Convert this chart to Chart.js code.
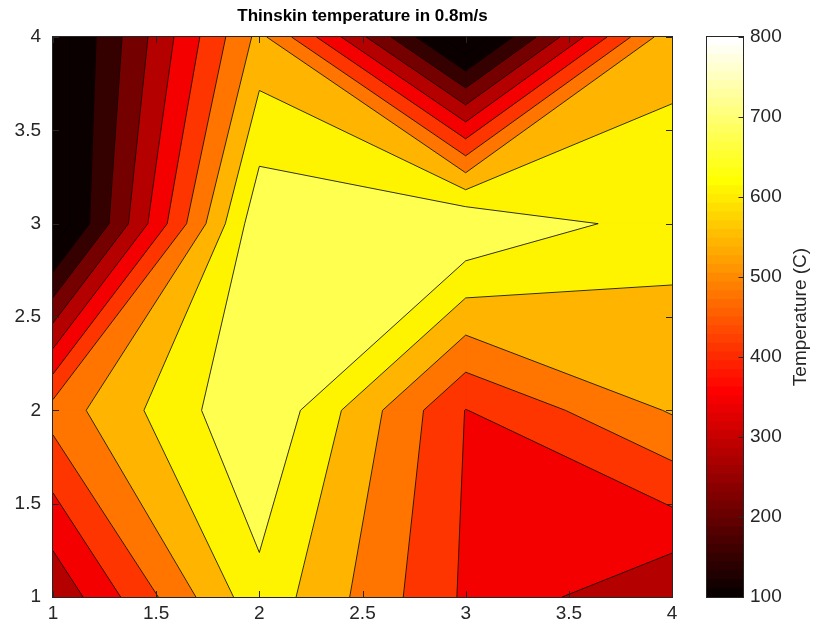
<!DOCTYPE html>
<html>
<head>
<meta charset="utf-8">
<script src="https://cdn.jsdelivr.net/npm/chart.js@4.4.0/dist/chart.umd.min.js"></script>
<style>
  html, body { margin: 0; padding: 0; background: #ffffff; }
  #wrap { position: relative; width: 816px; height: 630px; overflow: hidden; }
  #plot { position: absolute; left: 0; top: 0; }
  #bar { position: absolute; left: 700px; top: 0; }
</style>
</head>
<body>
<div id="wrap">
  <canvas id="plot" width="816" height="630"></canvas>
  <canvas id="bar" width="116" height="630"></canvas>
</div>
<script>
// ---- data -------------------------------------------------------------
const titleText = 'Thinskin temperature in 0.8m/s';
const colorbarLabel = 'Temperature (C)';

// measurement grid
const xGrid = [1, 2, 3, 4];
const yGrid = [1, 2, 3, 4];

// temperature (C) at each grid node, one row per y position, columns follow xGrid
const tempAtY1 = [295, 654, 402, 285];
const tempAtY2 = [506, 740, 411, 550];
const tempAtY3 = [27, 724, 740, 638];
const tempAtY4 = [42, 563, 20, 593];

// filled-contour levels (C)
const contourLevels = [85.5, 150.9, 216.4, 281.8, 347.3, 412.7, 478.2, 543.6, 609.1, 674.5];

// axis ticks
const xTicks = [1, 1.5, 2, 2.5, 3, 3.5, 4];
const yTicks = [1, 1.5, 2, 2.5, 3, 3.5, 4];
const colorTicks = [100, 200, 300, 400, 500, 600, 700, 800];
const colorLimits = [100, 800];

// ---- styling helpers --------------------------------------------------
const FONT = "'Liberation Sans', Arial, Helvetica, sans-serif";
const AXIS_COLOR = '#262626';
const TICK_SIZE = 19;
const MAP_SIZE = 64;

// "hot" colormap entry (1-based index)
function hotEntry(idx) {
  const n = Math.floor(3 / 8 * MAP_SIZE);
  const r = idx <= n ? idx / n : 1;
  const g = idx <= n ? 0 : (idx <= 2 * n ? (idx - n) / n : 1);
  const b = idx <= 2 * n ? 0 : (idx - 2 * n) / (MAP_SIZE - 2 * n);
  return `rgb(${Math.round(r * 255)},${Math.round(g * 255)},${Math.round(b * 255)})`;
}
function colorForValue(v) {
  const [lo, hi] = colorLimits;
  let idx = Math.floor((v - lo) / (hi - lo) * MAP_SIZE) + 1;
  idx = Math.max(1, Math.min(MAP_SIZE, idx));
  return hotEntry(idx);
}

// ---- contour geometry (linear interpolation along cell edges) --------
const temperature = [tempAtY1, tempAtY2, tempAtY3, tempAtY4];

function cellCorners(i, j) {
  return [
    { x: xGrid[i], y: yGrid[j], v: temperature[j][i] },
    { x: xGrid[i + 1], y: yGrid[j], v: temperature[j][i + 1] },
    { x: xGrid[i + 1], y: yGrid[j + 1], v: temperature[j + 1][i + 1] },
    { x: xGrid[i], y: yGrid[j + 1], v: temperature[j + 1][i] }
  ];
}
function crossing(p, q, level) {
  const t = (level - p.v) / (q.v - p.v);
  return { x: p.x + t * (q.x - p.x), y: p.y + t * (q.y - p.y) };
}
// part of a cell at or above a level
function cellRegion(i, j, level) {
  const c = cellCorners(i, j);
  const pts = [];
  for (let k = 0; k < 4; k++) {
    const p = c[k], q = c[(k + 1) % 4];
    const pin = p.v >= level, qin = q.v >= level;
    if (pin) pts.push({ x: p.x, y: p.y });
    if (pin !== qin) pts.push(crossing(p, q, level));
  }
  return pts;
}
// iso-line pieces through a cell
function cellSegments(i, j, level) {
  const c = cellCorners(i, j);
  const hits = [];
  for (let k = 0; k < 4; k++) {
    const p = c[k], q = c[(k + 1) % 4];
    if ((p.v >= level) !== (q.v >= level)) hits.push(crossing(p, q, level));
  }
  const segs = [];
  for (let k = 0; k + 1 < hits.length; k += 2) segs.push([hits[k], hits[k + 1]]);
  return segs;
}

// ---- datasets ---------------------------------------------------------
const datasets = [];
let drawIndex = 0;
function addRegion(pts, color) {
  datasets.push({
    type: 'line',
    data: pts.concat([pts[0]]),
    fill: 'shape',
    backgroundColor: color,
    borderColor: color,
    borderWidth: 0.8,
    pointRadius: 0,
    tension: 0,
    order: -(drawIndex++)
  });
}

const nx = xGrid.length, ny = yGrid.length;
const minTemp = Math.min(...temperature.flat());

// lowest band covers the whole field
addRegion([
  { x: xGrid[0], y: yGrid[0] }, { x: xGrid[nx - 1], y: yGrid[0] },
  { x: xGrid[nx - 1], y: yGrid[ny - 1] }, { x: xGrid[0], y: yGrid[ny - 1] }
], colorForValue(minTemp));

// each higher band painted over the previous one
contourLevels.forEach(level => {
  const color = colorForValue(level);
  for (let j = 0; j < ny - 1; j++) {
    for (let i = 0; i < nx - 1; i++) {
      const pts = cellRegion(i, j, level);
      if (pts.length >= 3) addRegion(pts, color);
    }
  }
});

// contour lines on top
contourLevels.forEach(level => {
  const data = [];
  for (let j = 0; j < ny - 1; j++) {
    for (let i = 0; i < nx - 1; i++) {
      cellSegments(i, j, level).forEach(s => {
        if (data.length) data.push({ x: null, y: null });
        data.push(s[0], s[1]);
      });
    }
  }
  datasets.push({
    type: 'line',
    data,
    fill: false,
    borderColor: 'rgba(0,0,0,0.9)',
    borderWidth: 0.9,
    pointRadius: 0,
    tension: 0,
    spanGaps: false,
    order: -(drawIndex++)
  });
});

// ---- frame and inward tick marks --------------------------------------
const axesFrame = {
  id: 'axesFrame',
  afterDraw(chart) {
    const { ctx, chartArea: a, scales: { x, y } } = chart;
    const tick = 6;
    ctx.save();
    ctx.strokeStyle = AXIS_COLOR;
    ctx.lineWidth = 1;
    ctx.beginPath();
    xTicks.forEach(v => {
      const px = Math.round(x.getPixelForValue(v)) + 0.5;
      ctx.moveTo(px, a.bottom); ctx.lineTo(px, a.bottom - tick);
      ctx.moveTo(px, a.top); ctx.lineTo(px, a.top + tick);
    });
    yTicks.forEach(v => {
      const py = Math.round(y.getPixelForValue(v)) + 0.5;
      ctx.moveTo(a.left, py); ctx.lineTo(a.left + tick, py);
      ctx.moveTo(a.right, py); ctx.lineTo(a.right - tick, py);
    });
    ctx.stroke();
    ctx.strokeRect(a.left - 0.5, a.top - 0.5, a.right - a.left + 1, a.bottom - a.top + 1);
    ctx.restore();
  }
};

Chart.defaults.font.family = FONT;

new Chart(document.getElementById('plot'), {
  type: 'line',
  data: { datasets },
  options: {
    responsive: false,
    animation: false,
    devicePixelRatio: 1,
    layout: { padding: { left: 0, right: 144, top: 0, bottom: 0 } },
    plugins: {
      legend: { display: false },
      tooltip: { enabled: false },
      title: {
        display: true,
        text: titleText,
        fullSize: false,
        color: '#000000',
        font: { size: 17, weight: 'bold', family: FONT, lineHeight: 1.2 },
        padding: { top: 6, bottom: 10.6 }
      }
    },
    scales: {
      x: {
        type: 'linear', min: 1, max: 4,
        grid: { display: false, drawTicks: false },
        border: { display: false },
        ticks: { color: AXIS_COLOR, font: { size: TICK_SIZE }, padding: 5, maxRotation: 0, autoSkip: false, callback: v => String(v) },
        afterBuildTicks: s => { s.ticks = xTicks.map(v => ({ value: v })); },
        afterFit: s => { s.height = 33; }
      },
      y: {
        type: 'linear', min: 1, max: 4,
        grid: { display: false, drawTicks: false },
        border: { display: false },
        ticks: { color: AXIS_COLOR, font: { size: TICK_SIZE }, padding: 12, autoSkip: false, callback: v => String(v) },
        afterBuildTicks: s => { s.ticks = yTicks.map(v => ({ value: v })); },
        afterFit: s => { s.width = 53; }
      }
    }
  },
  plugins: [axesFrame]
});

// ---- colorbar ---------------------------------------------------------
const barSets = [];
const span = (colorLimits[1] - colorLimits[0]) / MAP_SIZE;
for (let i = 1; i <= MAP_SIZE; i++) {
  const lo = colorLimits[0] + (i - 1) * span;
  barSets.push({
    data: [[lo, lo + span]],
    backgroundColor: hotEntry(i),
    borderWidth: 0,
    barPercentage: 1,
    categoryPercentage: 1,
    grouped: false,
    inflateAmount: 0.6
  });
}

const colorbarFrame = {
  id: 'colorbarFrame',
  afterDraw(chart) {
    const { ctx, chartArea: a, scales: { y } } = chart;
    ctx.save();
    ctx.strokeStyle = AXIS_COLOR;
    ctx.lineWidth = 1;
    ctx.beginPath();
    colorTicks.forEach(v => {
      const py = Math.round(y.getPixelForValue(v)) + 0.5;
      ctx.moveTo(a.right, py); ctx.lineTo(a.right - 4.5, py);
    });
    ctx.stroke();
    ctx.strokeRect(a.left - 0.5, a.top - 0.5, a.right - a.left + 1, a.bottom - a.top + 1);
    ctx.fillStyle = AXIS_COLOR;
    ctx.font = `${TICK_SIZE}px ${FONT}`;
    ctx.textAlign = 'center';
    ctx.textBaseline = 'middle';
    ctx.translate(101, (a.top + a.bottom) / 2);
    ctx.rotate(-Math.PI / 2);
    ctx.fillText(colorbarLabel, 0, 0);
    ctx.restore();
  }
};

new Chart(document.getElementById('bar'), {
  type: 'bar',
  data: { labels: [''], datasets: barSets },
  options: {
    responsive: false,
    animation: false,
    devicePixelRatio: 1,
    layout: { padding: { left: 7, right: 0, top: 37, bottom: 33 } },
    plugins: { legend: { display: false }, tooltip: { enabled: false }, title: { display: false } },
    scales: {
      x: { display: false },
      y: {
        position: 'right', min: colorLimits[0], max: colorLimits[1],
        grid: { display: false, drawTicks: false },
        border: { display: false },
        ticks: { color: AXIS_COLOR, font: { size: TICK_SIZE }, padding: 7, autoSkip: false, callback: v => String(v) },
        afterBuildTicks: s => { s.ticks = colorTicks.map(v => ({ value: v })); },
        afterFit: s => { s.width = 73; }
      }
    }
  },
  plugins: [colorbarFrame]
});
</script>
</body>
</html>
